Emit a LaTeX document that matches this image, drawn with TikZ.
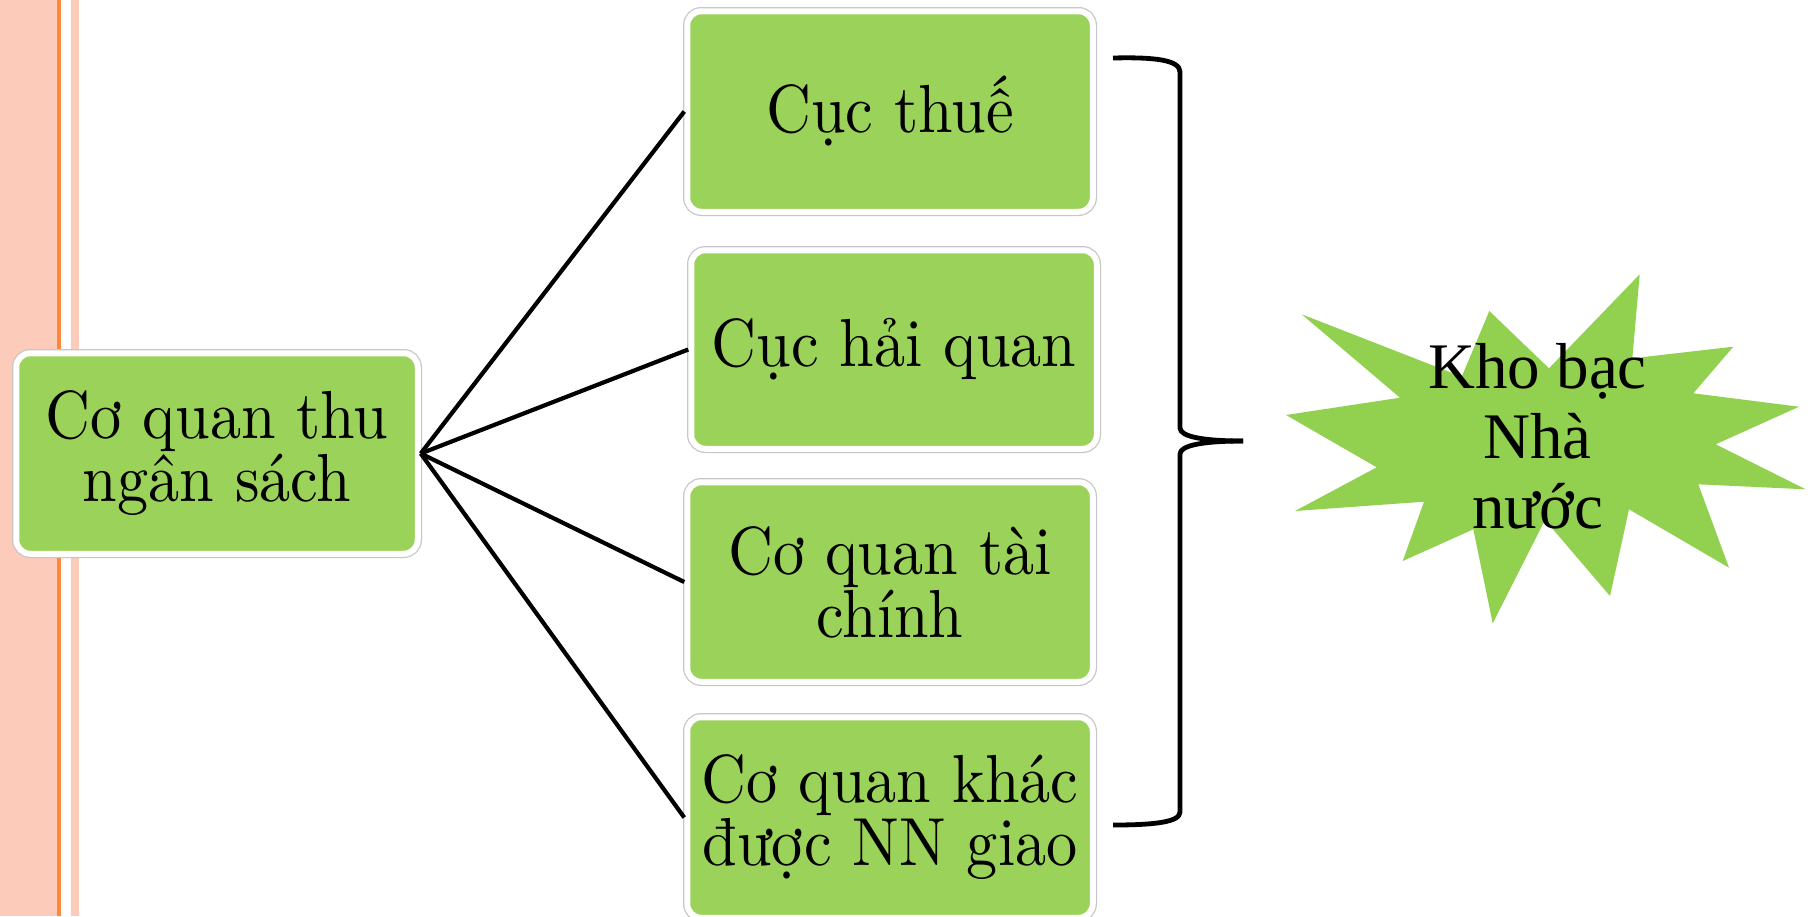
\documentclass[tikz,border=0pt]{standalone}
\usepackage{fontspec}
\setmainfont{lmroman10-regular.otf}[FakeStretch=0.915]
\newfontfamily\starfont{Liberation Serif}
\definecolor{stripepink}{RGB}{252,203,185}
\definecolor{stripeorange}{RGB}{253,136,58}
\definecolor{boxgreen}{RGB}{155,211,90}
\definecolor{stargreen}{RGB}{146,208,80}
\tikzset{
  box/.style={rectangle, rounded corners=14pt, fill=boxgreen, draw=white, line width=6pt,
    preaction={draw=black!22, line width=8.5pt}, align=center, inner sep=0pt, text=black,
    font=\fontsize{68}{63}\selectfont},
  conn/.style={draw=black, line width=4.2pt},
  bracestyle/.style={draw=black, line width=4.8pt, line join=round},
  starlabel/.style={align=center, inner sep=0pt, text=black, font=\starfont\fontsize{65}{70.3}\selectfont}
}
\begin{document}
\begin{tikzpicture}[x=1pt,y=-1pt]
\useasboundingbox (0,0) rectangle (1814,916);
\fill[white] (0,0) rectangle (1814,916);
% left stripes
\fill[stripepink] (0,0) rectangle (57,916);
\fill[stripeorange] (57,0) rectangle (61,916);
\fill[stripepink] (71,0) rectangle (79,916);
% boxes
\node[box, minimum width=401.5pt, minimum height=200.5pt] (src) at (217,453.5) {Cơ quan thu\\ngân sách};
\node[box, minimum width=405.5pt, minimum height=200.5pt] (b1) at (890,111.5) {Cục thuế};
\node[box, minimum width=405.5pt, minimum height=198.5pt] (b2) at (894,349.5) {Cục hải quan};
\node[box, minimum width=405.5pt, minimum height=199.5pt] (b3) at (890,582) {Cơ quan tài\\chính};
\node[box, minimum width=405.5pt, minimum height=200.5pt] (b4) at (890,817.5) {Cơ quan khác\\được NN giao};
% connectors
\draw[conn] (src.east) -- (b1.west);
\draw[conn] (src.east) -- (b2.west);
\draw[conn] (src.east) -- (b3.west);
\draw[conn] (src.east) -- (b4.west);
% brace
\draw[bracestyle] (1113,58) .. controls (1155,57) and (1180,60) .. (1180,72) -- (1180,428)
  .. controls (1180,437) and (1205,441) .. (1243,441);
\draw[bracestyle] (1243,441) .. controls (1205,441) and (1180,445) .. (1180,454) -- (1180,812)
  .. controls (1180,822) and (1155,825) .. (1113,825);
% star
\fill[stargreen] (1301.7,314.3) -- (1461.7,376.7) -- (1489.3,311) -- (1549,368.3) -- (1639.7,274.3)
  -- (1632.3,358.3) -- (1733.3,346.7) -- (1693.3,393.3) -- (1799,406.7) -- (1715.7,444.3)
  -- (1805.7,489.3) -- (1698.3,484.3) -- (1729,567.7) -- (1629,509.3) -- (1610,596)
  -- (1545,520) -- (1492.7,623.3) -- (1473.3,529.3) -- (1402.7,561) -- (1424,501.7)
  -- (1295,511) -- (1376.7,467.3) -- (1286,415) -- (1400,397.7) -- cycle;
\node[starlabel] (kb) at (1537.5,436.2) {Kho bạc\\Nhà\\nước};
\end{tikzpicture}
\end{document}
